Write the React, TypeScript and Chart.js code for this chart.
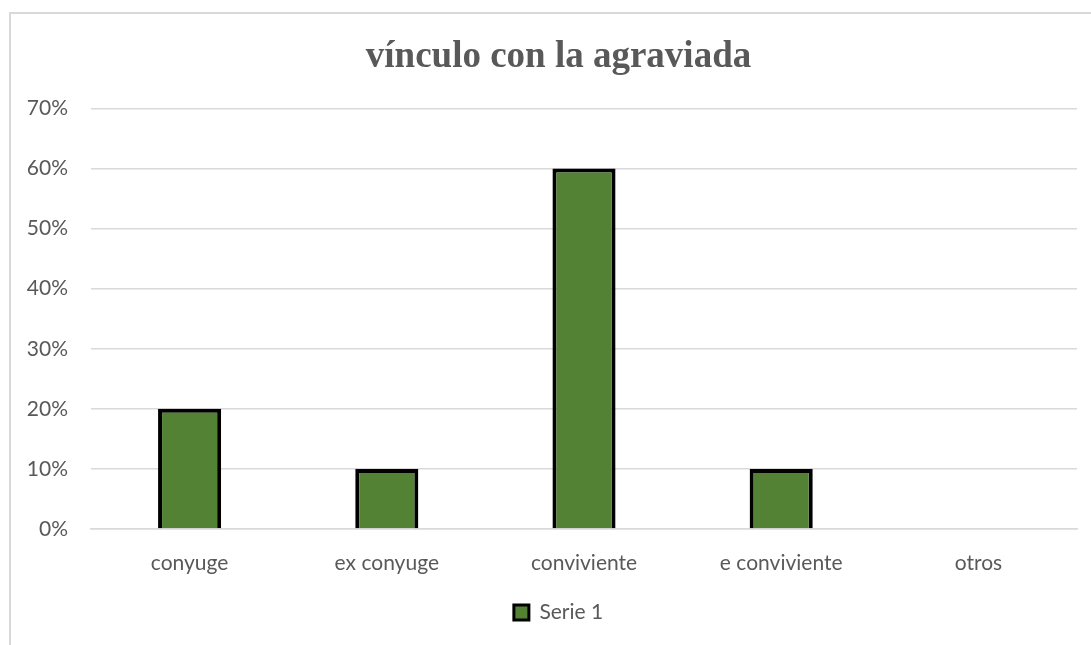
import React, { useEffect, useRef } from "react";
import { Chart, registerables } from "chart.js";

Chart.register(...registerables);

const categories = ["conyuge", "ex conyuge", "conviviente", "e conviviente", "otros"];
const serie1 = [0.2, 0.1, 0.6, 0.1, 0];
const seriesName = "Serie 1";
const chartTitle = "vínculo con la agraviada";
const yMax = 0.7;
const yStep = 0.1;

// Let the y tick labels draw outside the (narrow) y-axis box.
const unclipYLabels = {
  id: "unclipYLabels",
  afterLayout(chart: any) {
    const y = chart.scales.y;
    if (y) y._computeLabelArea = () => undefined;
  },
};

export default function App() {
  const ref = useRef<HTMLCanvasElement | null>(null);

  useEffect(() => {
    document.body.style.margin = "0";
    document.body.style.overflow = "hidden";
    const ctx = ref.current!;
    const labelColor = "#595959";
    const tickFont = { family: "Lato, 'Open Sans', sans-serif", size: 21 };
    const chart = new Chart(ctx, {
      type: "bar",
      data: {
        labels: categories,
        datasets: [
          {
            label: seriesName,
            data: serie1,
            backgroundColor: "#548235",
            borderColor: "#000000",
            borderWidth: 4,
            borderSkipped: "bottom",
            barPercentage: 0.32,
            categoryPercentage: 1,
          },
        ],
      },
      plugins: [unclipYLabels],
      options: {
        animation: false,
        responsive: false,
        maintainAspectRatio: false,
        layout: { padding: { left: 40, right: 14, top: 20, bottom: 12 } },
        plugins: {
          title: {
            display: true,
            text: chartTitle,
            color: labelColor,
            font: { family: "'Liberation Serif', 'Times New Roman', serif", size: 37, weight: "bold" },
            padding: { top: 15, bottom: 29 },
          },
          legend: {
            position: "bottom",
            labels: {
              color: labelColor,
              font: tickFont,
              boxWidth: 15,
              boxHeight: 15,
              padding: 10,
              generateLabels: () => [
                {
                  text: seriesName,
                  fillStyle: "#548235",
                  strokeStyle: "#000000",
                  lineWidth: 3,
                  fontColor: labelColor,
                  datasetIndex: 0,
                  hidden: false,
                },
              ],
            },
          },
          tooltip: { enabled: false },
        },
        scales: {
          x: {
            grid: { display: false, drawTicks: false },
            border: { display: true, color: "#d9d9d9", width: 1.5 },
            ticks: { color: labelColor, font: tickFont, padding: 22 },
            afterFit: (s: any) => {
              s.height = 63;
            },
          },
          y: {
            min: 0,
            max: yMax,
            grid: { color: "#d9d9d9", lineWidth: 1.5, drawTicks: false },
            border: { display: false },
            ticks: {
              stepSize: yStep,
              color: labelColor,
              font: tickFont,
              padding: 23,
              callback: (v: any) => Math.round(Number(v) * 100) + "%",
            },
            afterFit: (s: any) => {
              s.width = 51;
            },
          },
        },
      },
    });
    return () => chart.destroy();
  }, []);

  return (
    <div style={{ position: "fixed", left: 0, top: 0, width: 1091, height: 645, overflow: "hidden", background: "#fff" }}>
      <div
        style={{
          position: "absolute",
          left: 9,
          top: 12,
          width: 1200,
          height: 800,
          border: "2px solid #d9d9d9",
        }}
      />
      <canvas ref={ref} width={1091} height={645} style={{ position: "absolute", left: 0, top: 0 }} />
    </div>
  );
}
